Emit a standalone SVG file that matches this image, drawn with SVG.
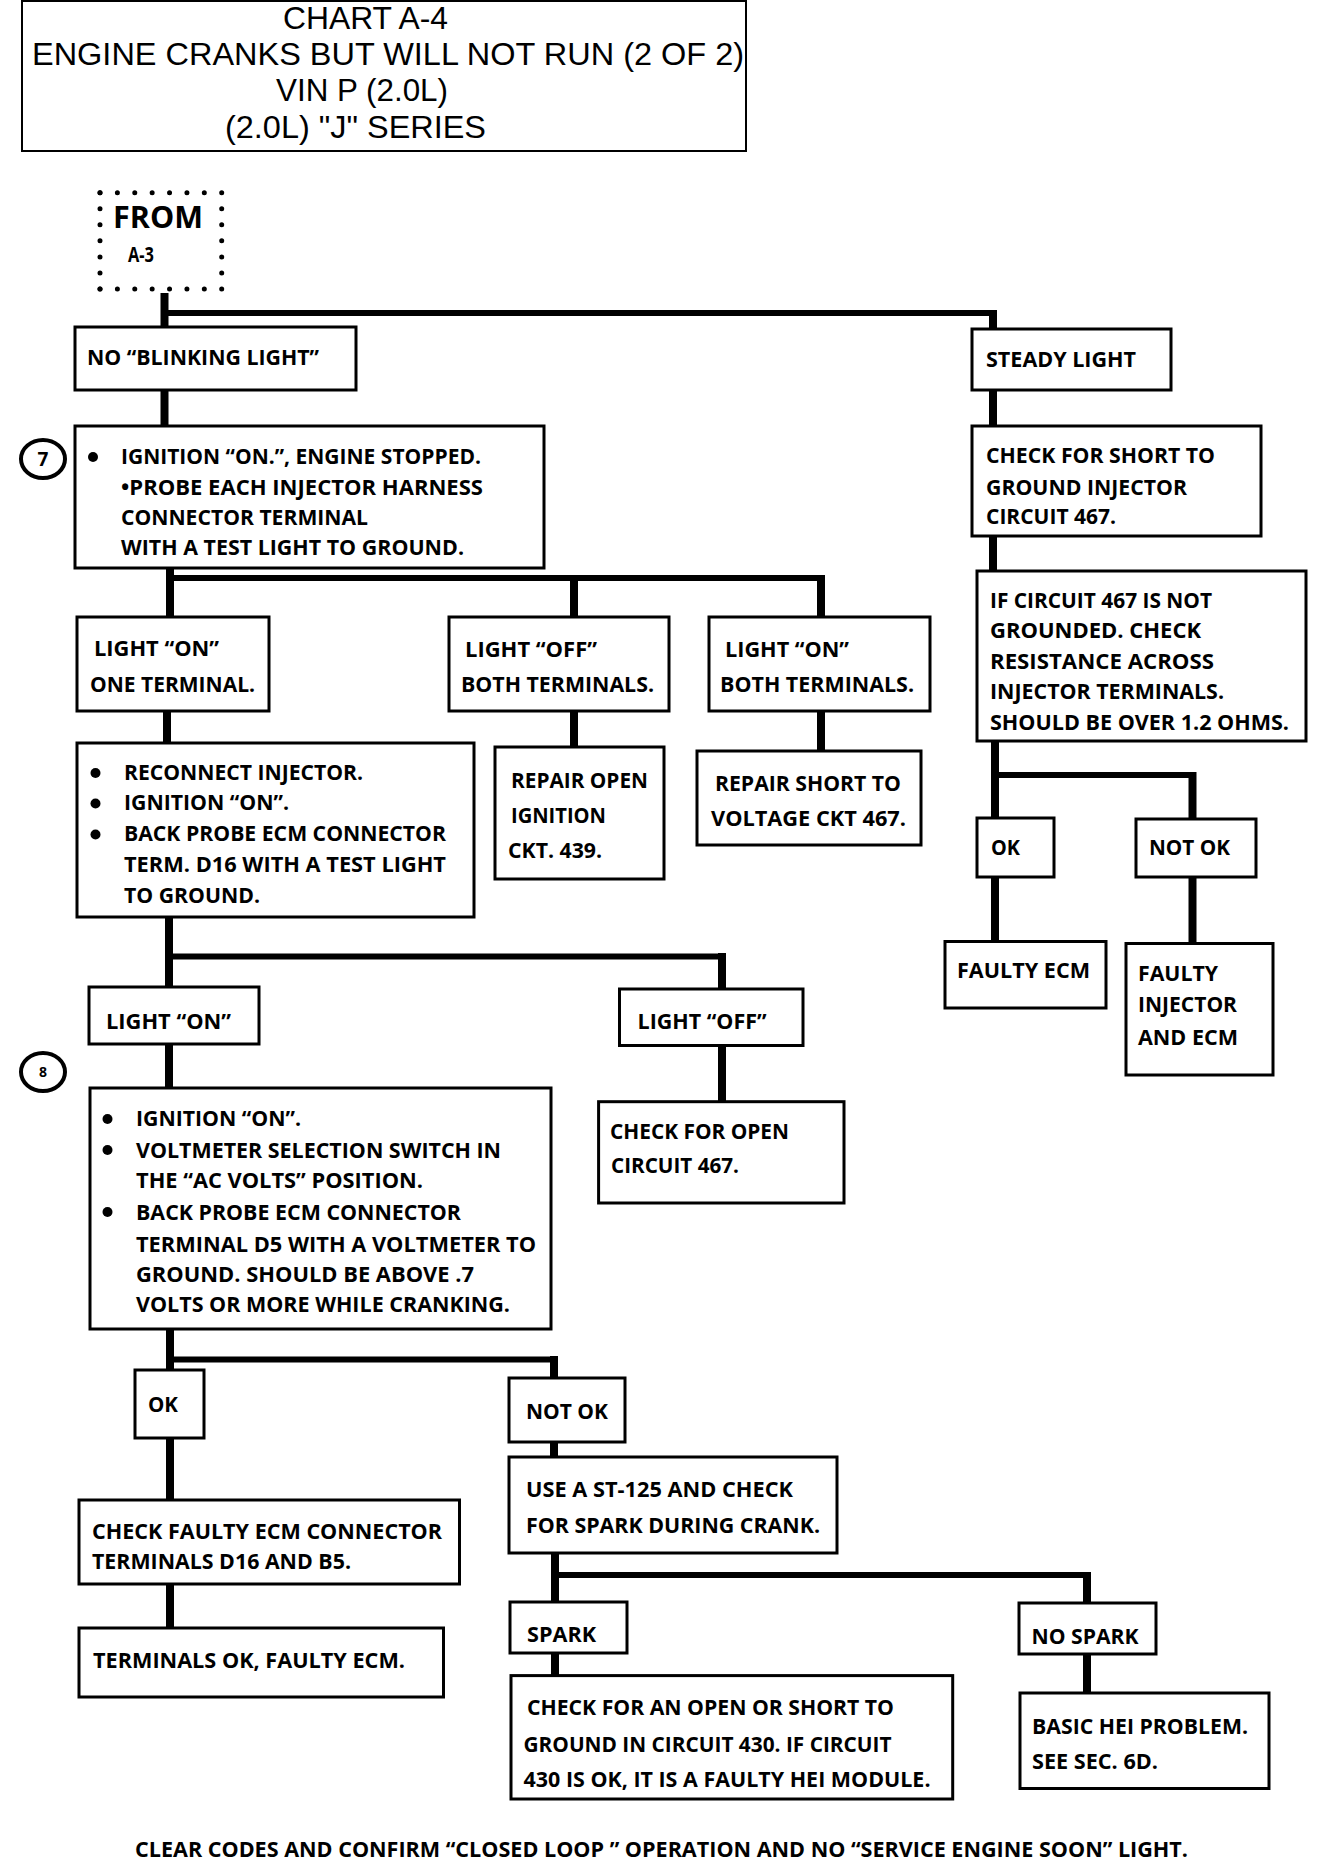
<svg xmlns="http://www.w3.org/2000/svg" width="1328" height="1860" viewBox="0 0 1328 1860">
<style>
.box{fill:#fff;stroke:#000;stroke-width:3}
.v{stroke:#000;stroke-width:8;fill:none}
.h{stroke:#000;stroke-width:6;fill:none}
.t{font-family:"Open Sans","Noto Sans","Liberation Sans",sans-serif;font-weight:bold;font-size:21px;fill:#000}
.ti{font-family:"Liberation Sans",Arial,sans-serif;font-size:32px;fill:#000}
.dot{stroke:#000;stroke-width:5;stroke-linecap:round;fill:none}
.bul{fill:#000}
.num{fill:#fff;stroke:#000;stroke-width:4}
</style>
<rect width="1328" height="1860" fill="#fff"/>

<g id="title">
<rect x="22" y="1" width="724" height="150" fill="#fff" stroke="#000" stroke-width="2"/>
<text class="ti" x="283" y="29" textLength="165" lengthAdjust="spacingAndGlyphs">CHART A-4</text>
<text class="ti" x="32" y="65" textLength="712" lengthAdjust="spacingAndGlyphs">ENGINE CRANKS BUT WILL NOT RUN  (2 OF 2)</text>
<text class="ti" x="276" y="101" textLength="172" lengthAdjust="spacingAndGlyphs">VIN P (2.0L)</text>
<text class="ti" x="225" y="138" textLength="261" lengthAdjust="spacingAndGlyphs">(2.0L) "J" SERIES</text>
</g>

<g id="connectors">
<path class="v" d="M164.5 293V327"/>
<path class="h" d="M161 313H996"/>
<path class="v" d="M993 310V329"/>
<path class="v" d="M164.5 390V426"/>
<path class="v" d="M170 568V617"/>
<path class="h" d="M166 578H825"/>
<path class="v" d="M574 575V617"/>
<path class="v" d="M821 575V617"/>
<path class="v" d="M167 711V743"/>
<path class="v" d="M574 711V747"/>
<path class="v" d="M821 711V751"/>
<path class="v" d="M169 917V987"/>
<path class="h" d="M165 956.5H726"/>
<path class="v" d="M722 953V989"/>
<path class="v" d="M169 1044V1088"/>
<path class="v" d="M722 1045V1102"/>
<path class="v" d="M993 390V426"/>
<path class="v" d="M993 536V571"/>
<path class="v" d="M995 741V818"/>
<path class="h" d="M991 775H1196"/>
<path class="v" d="M1192.5 772V819"/>
<path class="v" d="M995 877V941.5"/>
<path class="v" d="M1192.5 877V943.5"/>
<path class="v" d="M170 1329V1370"/>
<path class="h" d="M166 1359.5H558"/>
<path class="v" d="M554 1356V1378"/>
<path class="v" d="M170 1438V1500"/>
<path class="v" d="M170 1584V1628"/>
<path class="v" d="M554 1442V1457"/>
<path class="v" d="M555 1553V1602"/>
<path class="h" d="M551 1575H1091"/>
<path class="v" d="M1087 1572V1603"/>
<path class="v" d="M555 1653V1676"/>
<path class="v" d="M1087 1654V1693"/>
</g>

<g id="from">
<line class="dot" x1="100" y1="192.7" x2="221.7" y2="192.7" stroke-dasharray="0 17.386"/>
<line class="dot" x1="100" y1="289" x2="221.7" y2="289" stroke-dasharray="0 17.386"/>
<line class="dot" x1="100" y1="192.7" x2="100" y2="289" stroke-dasharray="0 16.05"/>
<line class="dot" x1="221.7" y1="192.7" x2="221.7" y2="289" stroke-dasharray="0 16.05"/>
<text class="t" x="113" y="228" style="font-size:31px" textLength="90" lengthAdjust="spacingAndGlyphs">FROM</text>
<text class="t" x="128" y="262" style="font-size:21px" textLength="26" lengthAdjust="spacingAndGlyphs">A-3</text>
</g>

<g id="no-blinking">
<rect class="box" x="75" y="327" width="281" height="63"/>
<text class="t" x="87" y="365" textLength="232" lengthAdjust="spacingAndGlyphs">NO “BLINKING LIGHT”</text>
</g>

<g id="step7">
<ellipse class="num" cx="43" cy="459" rx="22" ry="19"/>
<text class="t" x="43" y="466" style="font-size:19px" text-anchor="middle">7</text>
</g>

<g id="box7">
<rect class="box" x="75" y="426" width="469" height="142"/>
<circle class="bul" cx="93" cy="457" r="5"/>
<text class="t" x="121" y="464" textLength="360" lengthAdjust="spacingAndGlyphs">IGNITION “ON.”, ENGINE STOPPED.</text>
<text class="t" x="121" y="495" textLength="362" lengthAdjust="spacingAndGlyphs">•PROBE EACH  INJECTOR HARNESS</text>
<text class="t" x="121" y="525" textLength="247" lengthAdjust="spacingAndGlyphs">CONNECTOR TERMINAL</text>
<text class="t" x="121" y="555" textLength="343" lengthAdjust="spacingAndGlyphs">WITH A TEST LIGHT TO GROUND.</text>
</g>

<g id="steady">
<rect class="box" x="972" y="329" width="199" height="61"/>
<text class="t" x="986" y="367" textLength="150" lengthAdjust="spacingAndGlyphs">STEADY LIGHT</text>
</g>

<g id="check-short">
<rect class="box" x="972" y="426" width="289" height="110"/>
<text class="t" x="986" y="463" textLength="229" lengthAdjust="spacingAndGlyphs">CHECK FOR SHORT TO</text>
<text class="t" x="986" y="494.5" textLength="201" lengthAdjust="spacingAndGlyphs">GROUND INJECTOR</text>
<text class="t" x="986" y="523.5" textLength="130" lengthAdjust="spacingAndGlyphs">CIRCUIT 467.</text>
</g>

<g id="if-circuit">
<rect class="box" x="977" y="571" width="329" height="170"/>
<text class="t" x="990" y="607.5" textLength="222" lengthAdjust="spacingAndGlyphs">IF CIRCUIT 467 IS NOT</text>
<text class="t" x="990" y="638" textLength="211" lengthAdjust="spacingAndGlyphs">GROUNDED.  CHECK</text>
<text class="t" x="990" y="669" textLength="224" lengthAdjust="spacingAndGlyphs">RESISTANCE  ACROSS</text>
<text class="t" x="990" y="699" textLength="234" lengthAdjust="spacingAndGlyphs">INJECTOR TERMINALS.</text>
<text class="t" x="990" y="730" textLength="299" lengthAdjust="spacingAndGlyphs">SHOULD BE OVER 1.2 OHMS.</text>
</g>

<g id="ok-right">
<rect class="box" x="977" y="818" width="77" height="59"/>
<text class="t" x="991" y="854.5" textLength="29" lengthAdjust="spacingAndGlyphs">OK</text>
</g>
<g id="notok-right">
<rect class="box" x="1136" y="819" width="120" height="58"/>
<text class="t" x="1149" y="854.5" textLength="81" lengthAdjust="spacingAndGlyphs">NOT OK</text>
</g>
<g id="faulty-ecm">
<rect class="box" x="945" y="941.5" width="161" height="66.5"/>
<text class="t" x="957" y="978" textLength="133" lengthAdjust="spacingAndGlyphs">FAULTY ECM</text>
</g>
<g id="faulty-injector">
<rect class="box" x="1126" y="943.5" width="147" height="131.5"/>
<text class="t" x="1138" y="981" textLength="80" lengthAdjust="spacingAndGlyphs">FAULTY</text>
<text class="t" x="1138" y="1011.5" textLength="99" lengthAdjust="spacingAndGlyphs">INJECTOR</text>
<text class="t" x="1138" y="1045" textLength="100" lengthAdjust="spacingAndGlyphs">AND ECM</text>
</g>

<g id="light-on-one">
<rect class="box" x="77" y="617" width="192" height="94"/>
<text class="t" x="94" y="656" textLength="125" lengthAdjust="spacingAndGlyphs">LIGHT “ON”</text>
<text class="t" x="90" y="692" textLength="165" lengthAdjust="spacingAndGlyphs">ONE TERMINAL.</text>
</g>
<g id="light-off-both">
<rect class="box" x="449" y="617" width="220" height="94"/>
<text class="t" x="465" y="657" textLength="132" lengthAdjust="spacingAndGlyphs">LIGHT “OFF”</text>
<text class="t" x="461" y="692" textLength="193" lengthAdjust="spacingAndGlyphs">BOTH TERMINALS.</text>
</g>
<g id="light-on-both">
<rect class="box" x="709" y="617" width="221" height="94"/>
<text class="t" x="725" y="657" textLength="124" lengthAdjust="spacingAndGlyphs">LIGHT “ON”</text>
<text class="t" x="720" y="692" textLength="194" lengthAdjust="spacingAndGlyphs">BOTH TERMINALS.</text>
</g>

<g id="reconnect">
<rect class="box" x="77" y="743" width="397" height="174"/>
<circle class="bul" cx="95.5" cy="773" r="5"/>
<circle class="bul" cx="95.5" cy="803.5" r="5"/>
<circle class="bul" cx="95.5" cy="834.5" r="5"/>
<text class="t" x="124" y="779.5" textLength="239" lengthAdjust="spacingAndGlyphs">RECONNECT INJECTOR.</text>
<text class="t" x="124" y="810" textLength="165" lengthAdjust="spacingAndGlyphs">IGNITION “ON”.</text>
<text class="t" x="124" y="841" textLength="322" lengthAdjust="spacingAndGlyphs">BACK PROBE ECM CONNECTOR</text>
<text class="t" x="124" y="872" textLength="322" lengthAdjust="spacingAndGlyphs">TERM. D16  WITH A TEST LIGHT</text>
<text class="t" x="124" y="903" textLength="136" lengthAdjust="spacingAndGlyphs">TO GROUND.</text>
</g>

<g id="repair-open">
<rect class="box" x="495" y="747" width="169" height="132"/>
<text class="t" x="511" y="788" textLength="137" lengthAdjust="spacingAndGlyphs">REPAIR OPEN</text>
<text class="t" x="511" y="823" textLength="95" lengthAdjust="spacingAndGlyphs">IGNITION</text>
<text class="t" x="508" y="858" textLength="94" lengthAdjust="spacingAndGlyphs">CKT. 439.</text>
</g>
<g id="repair-short">
<rect class="box" x="697" y="751" width="224" height="94"/>
<text class="t" x="715" y="790.5" textLength="186" lengthAdjust="spacingAndGlyphs">REPAIR SHORT TO</text>
<text class="t" x="711" y="826" textLength="195" lengthAdjust="spacingAndGlyphs">VOLTAGE CKT 467.</text>
</g>

<g id="light-on-2">
<rect class="box" x="89" y="987" width="170" height="57"/>
<text class="t" x="106" y="1028.5" textLength="125" lengthAdjust="spacingAndGlyphs">LIGHT “ON”</text>
</g>
<g id="light-off-2">
<rect class="box" x="619.5" y="989" width="183.5" height="56.5"/>
<text class="t" x="637.5" y="1028.5" textLength="129" lengthAdjust="spacingAndGlyphs">LIGHT “OFF”</text>
</g>
<g id="check-open">
<rect class="box" x="598.6" y="1101.7" width="245.4" height="101.3"/>
<text class="t" x="610" y="1139" textLength="179" lengthAdjust="spacingAndGlyphs">CHECK FOR OPEN</text>
<text class="t" x="611" y="1173" textLength="128" lengthAdjust="spacingAndGlyphs">CIRCUIT 467.</text>
</g>

<g id="step8">
<ellipse class="num" cx="43" cy="1072" rx="22" ry="19"/>
<text class="t" x="43" y="1077" style="font-size:14px" text-anchor="middle">8</text>
</g>

<g id="box8">
<rect class="box" x="90" y="1088" width="461" height="241"/>
<circle class="bul" cx="107.5" cy="1119" r="5"/>
<circle class="bul" cx="107.5" cy="1150" r="5"/>
<circle class="bul" cx="107.5" cy="1212" r="5"/>
<text class="t" x="136" y="1125.5" textLength="165" lengthAdjust="spacingAndGlyphs">IGNITION “ON”.</text>
<text class="t" x="136" y="1157.5" textLength="365" lengthAdjust="spacingAndGlyphs">VOLTMETER SELECTION SWITCH IN</text>
<text class="t" x="136" y="1188" textLength="287" lengthAdjust="spacingAndGlyphs">THE “AC VOLTS” POSITION.</text>
<text class="t" x="136" y="1219.5" textLength="325" lengthAdjust="spacingAndGlyphs">BACK PROBE ECM CONNECTOR</text>
<text class="t" x="136" y="1251.5" textLength="400" lengthAdjust="spacingAndGlyphs">TERMINAL D5  WITH A VOLTMETER TO</text>
<text class="t" x="136" y="1281.5" textLength="338" lengthAdjust="spacingAndGlyphs">GROUND.  SHOULD BE ABOVE .7</text>
<text class="t" x="136" y="1312" textLength="374" lengthAdjust="spacingAndGlyphs">VOLTS OR MORE WHILE CRANKING.</text>
</g>

<g id="ok-lower">
<rect class="box" x="135" y="1370" width="69" height="68"/>
<text class="t" x="148" y="1412" textLength="30" lengthAdjust="spacingAndGlyphs">OK</text>
</g>
<g id="notok-lower">
<rect class="box" x="509" y="1378" width="116" height="64"/>
<text class="t" x="526" y="1419" textLength="82" lengthAdjust="spacingAndGlyphs">NOT OK</text>
</g>
<g id="check-faulty">
<rect class="box" x="79" y="1500" width="380.5" height="84"/>
<text class="t" x="92" y="1538.5" textLength="350" lengthAdjust="spacingAndGlyphs">CHECK FAULTY ECM CONNECTOR</text>
<text class="t" x="92" y="1568.5" textLength="259" lengthAdjust="spacingAndGlyphs">TERMINALS D16 AND B5.</text>
</g>
<g id="terminals-ok">
<rect class="box" x="79" y="1628" width="364.5" height="69"/>
<text class="t" x="93" y="1667.5" textLength="312" lengthAdjust="spacingAndGlyphs">TERMINALS OK, FAULTY ECM.</text>
</g>
<g id="use-st125">
<rect class="box" x="509" y="1457" width="328" height="96"/>
<text class="t" x="526" y="1497" textLength="267" lengthAdjust="spacingAndGlyphs">USE A ST-125 AND CHECK</text>
<text class="t" x="526" y="1533" textLength="294" lengthAdjust="spacingAndGlyphs">FOR SPARK DURING CRANK.</text>
</g>
<g id="spark">
<rect class="box" x="510" y="1602" width="117" height="51"/>
<text class="t" x="527" y="1642" textLength="69" lengthAdjust="spacingAndGlyphs">SPARK</text>
</g>
<g id="no-spark">
<rect class="box" x="1019" y="1603" width="137" height="51"/>
<text class="t" x="1031.5" y="1643.5" textLength="107" lengthAdjust="spacingAndGlyphs">NO SPARK</text>
</g>
<g id="check-open-short">
<rect class="box" x="511" y="1675.6" width="441.7" height="123.4"/>
<text class="t" x="527" y="1715" textLength="367" lengthAdjust="spacingAndGlyphs">CHECK FOR AN OPEN OR SHORT TO</text>
<text class="t" x="523.5" y="1751.5" textLength="368" lengthAdjust="spacingAndGlyphs">GROUND IN CIRCUIT 430. IF CIRCUIT</text>
<text class="t" x="523.5" y="1787" textLength="407" lengthAdjust="spacingAndGlyphs">430 IS OK, IT IS A FAULTY HEI MODULE.</text>
</g>
<g id="basic-hei">
<rect class="box" x="1020" y="1693" width="249" height="95.5"/>
<text class="t" x="1032" y="1733.5" textLength="216" lengthAdjust="spacingAndGlyphs">BASIC HEI PROBLEM.</text>
<text class="t" x="1032" y="1769" textLength="126" lengthAdjust="spacingAndGlyphs">SEE SEC. 6D.</text>
</g>

<g id="footer">
<text class="t" x="135" y="1857" textLength="1053" lengthAdjust="spacingAndGlyphs">CLEAR CODES AND CONFIRM “CLOSED LOOP ” OPERATION AND NO “SERVICE ENGINE SOON” LIGHT.</text>
</g>
</svg>
